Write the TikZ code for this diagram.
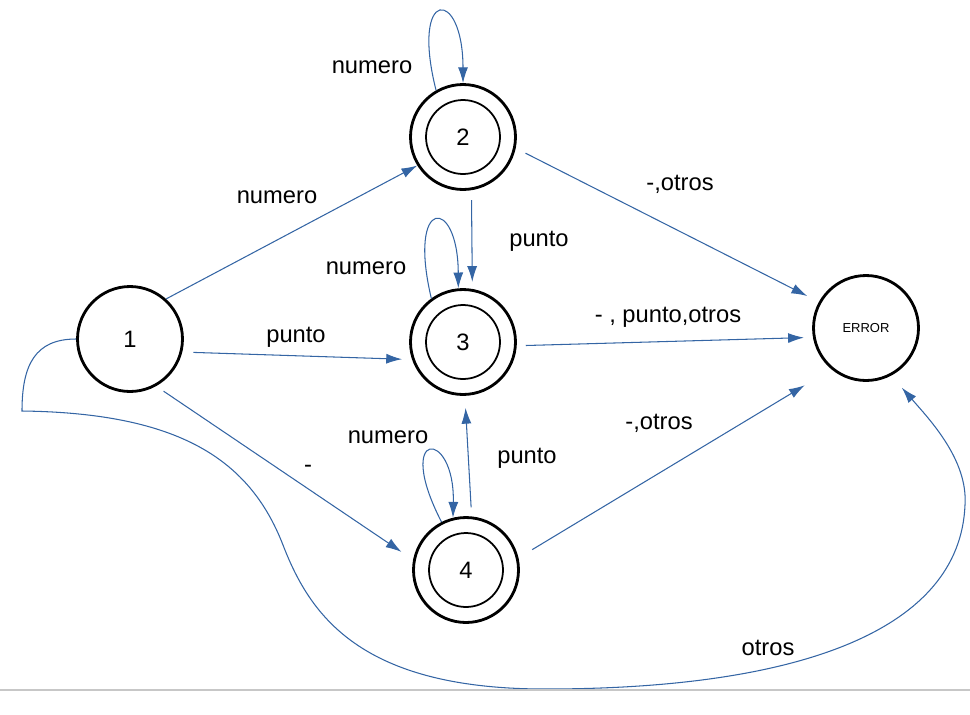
\documentclass[tikz,border=0pt]{standalone}
\usepackage{fontspec}
\setmainfont{Liberation Sans}
\usetikzlibrary{arrows.meta}
\definecolor{edgeblue}{HTML}{3465A4}
\tikzset{>={Latex[width=5.7pt,length=9pt]}}
\tikzset{state/.style={shape=circle, draw, line width=1.6pt,
    minimum size=2.1cm, inner sep=0pt}}
\tikzset{accepting/.style={state, path picture={
    \draw[line width=1pt] (path picture bounding box.center) circle (0.74cm);}}}
\tikzset{trans/.style={->, draw=edgeblue, line width=0.6pt}}
\tikzset{every node/.style={font=\fontsize{13.5}{16}\selectfont}}

\begin{document}
\begin{tikzpicture}[x=0.02cm, y=-0.02cm]
    \useasboundingbox (0,0) rectangle (970,714);
    % states
    \node[state] (q1) at (130,339) {1};
    \node[accepting] (q2) at (463,137) {2};
    \node[accepting] (q3) at (463,342) {3};
    \node[accepting] (q4) at (466,570) {4};
    \node[state, font=\fontsize{7.4}{9}\selectfont] (qE) at (866,328) {ERROR};

    % labels
    \node (l12) at (277,197) {numero};
    \node (l13) at (296,337) {punto};
    \node (l14) at (308,469) {-};
    \node (l22) at (372,67)  {numero};
    \node (l23) at (539,241) {punto};
    \node (l33) at (366,268) {numero};
    \node (l44) at (388,437) {numero};
    \node (l43) at (527,458) {punto};
    \node (l2E) at (680,184) {-,otros};
    \node (l3E) at (668,317) {- , punto,otros};
    \node (l4E) at (659,423) {-,otros};
    \node (l1E) at (768,648) {otros};

    % transitions
    \draw [trans] (q1.48) to (q2.212);
    \draw [trans, shorten <=0.22cm, shorten >=0.2cm] (q1.-14) to (q3.199);
    \draw [trans, shorten <=0.18cm, shorten >=0.28cm] (q1.-61) to (q4.169);
    \draw [trans, shorten <=0.2cm, shorten >=0.14cm] (q2.-81) to (q3.80);
    \draw [trans, shorten <=0.18cm, shorten >=0.24cm] (q4.84) to (q3.-88);
    \draw [trans, shorten <=0.22cm, shorten >=0.26cm] (q2.-12) to (qE.151);
    \draw [trans, shorten <=0.18cm, shorten >=0.18cm] (q3.-4) to (qE.190);
    \draw [trans, shorten <=0.32cm, shorten >=0.62cm] (q4.13) to (qE.230);

    % loops
    \draw [trans] (q2.120) .. controls (410,-13) and (463,-13) .. (q2.north);
    \draw [trans] (q3.126) .. controls (407,196) and (458,196) .. (q3.95);
    \draw [trans] (q4.117) .. controls (393,428) and (455,428) .. (q4.104);

    % long way round to ERROR
    \draw [trans, shorten >=0.32cm] (q1.west) .. controls (35,339) and (22,365) .. (22,411)
        .. controls (180,413) and (250,460) .. (283,545)
        .. controls (310,615) and (360,689) .. (545,689)
        .. controls (800,689) and (960,630) .. (965,505)
        .. controls (968,460) and (930,420) .. (qE.-62);

    \draw [black!22, line width=0.6pt] (0,690) -- (970,690);
\end{tikzpicture}
\end{document}
